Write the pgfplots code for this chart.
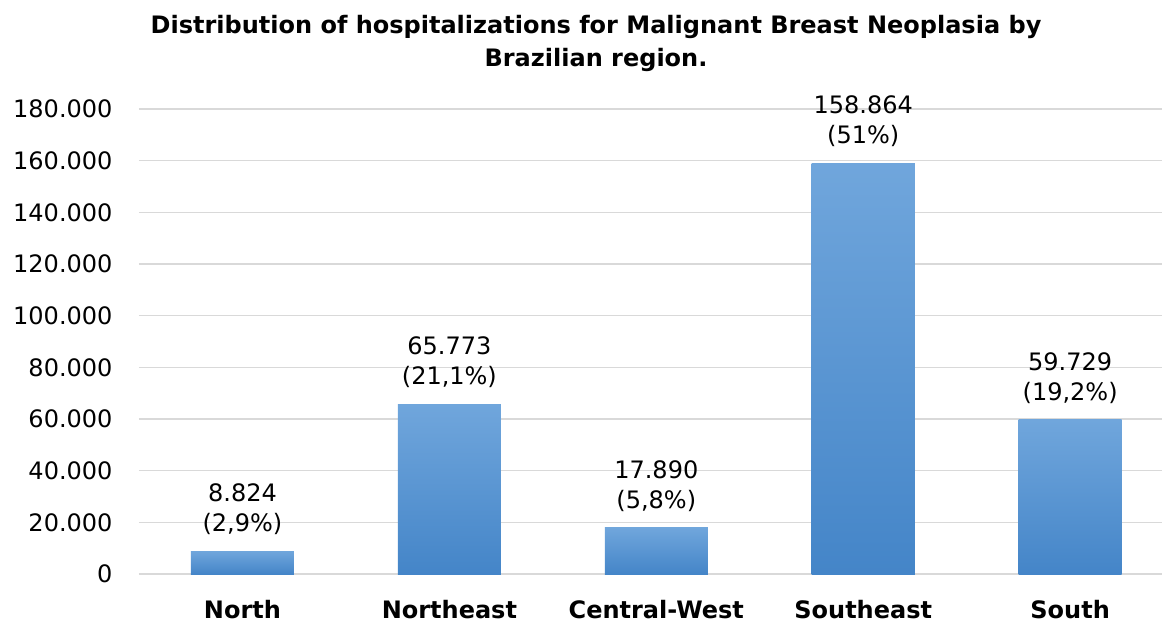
\documentclass[border=0pt]{standalone}
\usepackage{pgfplots}
\pgfplotsset{compat=1.18}
\usepackage{fontspec}
\setmainfont{DejaVu Sans}
\definecolor{gridc}{RGB}{217,217,217}
\definecolor{bartop}{RGB}{112,166,220}
\definecolor{barbot}{RGB}{68,133,200}
\begin{document}
\begin{tikzpicture}[x=1pt,y=1pt]
\path[use as bounding box] (-139,-50) rectangle (1023,574);
\begin{axis}[
  at={(0,0)}, anchor=south west,
  scale only axis,
  width=1023pt, height=465pt,
  xmin=-0.5, xmax=4.444,
  ymin=0, ymax=180000,
  scaled y ticks=false,
  ytick={0,20000,40000,60000,80000,100000,120000,140000,160000,180000},
  yticklabels={0,20.000,40.000,60.000,80.000,100.000,120.000,140.000,160.000,180.000},
  xtick={0,1,2,3,4},
  xticklabels={North,Northeast,Central-West,Southeast,South},
  x tick label style={font=\fontsize{24}{28}\selectfont\bfseries, yshift=-23pt},
  y tick label style={font=\fontsize{24}{28}\selectfont, xshift=-23pt},
  major tick length=0pt,
  axis line style={draw=none},
  ymajorgrids, grid style={gridc, line width=1.5pt},
  ybar, bar width=0.498, bar shift=0pt,
  point meta=explicit symbolic,
  nodes near coords,
  every node near coord/.append style={font=\fontsize{24}{30}\selectfont, align=center, anchor=south, yshift=13pt},
]
\addplot[draw=none, top color=bartop, bottom color=barbot] coordinates {(0,8824) [{8.824\\(2,9\%)}]};
\addplot[draw=none, top color=bartop, bottom color=barbot] coordinates {(1,65773) [{65.773\\(21,1\%)}]};
\addplot[draw=none, top color=bartop, bottom color=barbot] coordinates {(2,17890) [{17.890\\(5,8\%)}]};
\addplot[draw=none, top color=bartop, bottom color=barbot] coordinates {(3,158864) [{158.864\\(51\%)}]};
\addplot[draw=none, top color=bartop, bottom color=barbot] coordinates {(4,59729) [{59.729\\(19,2\%)}]};
\end{axis}
\node[font=\fontsize{24}{33}\selectfont\bfseries, align=center] at (457,531) {Distribution of hospitalizations for Malignant Breast Neoplasia by\\Brazilian region.};
\end{tikzpicture}
\end{document}
